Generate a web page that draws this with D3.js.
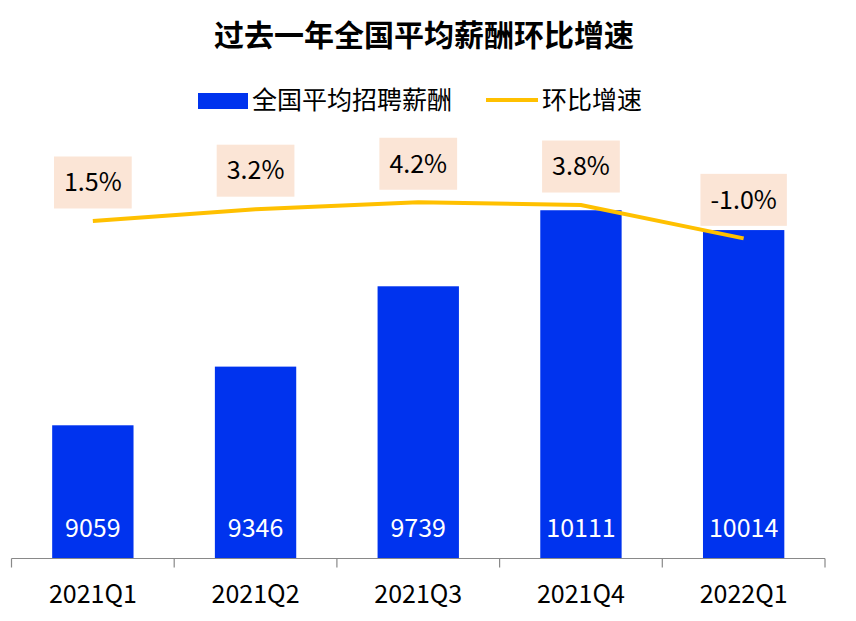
<!DOCTYPE html>
<html>
<head>
<meta charset="UTF-8">
<title>过去一年全国平均薪酬环比增速</title>
<script src="https://d3js.org/d3.v7.min.js"></script>
<style>
  body { margin: 0; background: #fff; }
  svg { display: block; font-family: "Noto Sans CJK SC", "Noto Sans", sans-serif; }
</style>
</head>
<body>
<svg width="856" height="621"></svg>
<script>
// 数据
const quarters = ["2021Q1", "2021Q2", "2021Q3", "2021Q4", "2022Q1"];
const salary = [9059, 9346, 9739, 10111, 10014];
const growth = [1.5, 3.2, 4.2, 3.8, -1.0];
const growthLabels = ["1.5%", "3.2%", "4.2%", "3.8%", "-1.0%"];

const svg = d3.select("svg");
const plotLeft = 11.5, plotRight = 825, plotBottom = 558.5;

const x = d3.scaleBand().domain(quarters).range([plotLeft, plotRight])
    .paddingInner(0.5).paddingOuter(0.25);
const y = d3.scaleLinear().domain([8400, 10800]).range([560, 69.4]);
const y2 = d3.scaleLinear().domain([-40, 20]).range([509, 92.6]);

// 标题
svg.append("text")
    .attr("x", 424).attr("y", 46)
    .attr("text-anchor", "middle")
    .attr("font-size", 30).attr("font-weight", "bold")
    .text("过去一年全国平均薪酬环比增速");

// 图例
const lg = svg.append("g");
lg.append("rect").attr("x", 198).attr("y", 93).attr("width", 50).attr("height", 16).attr("fill", "#0033EE");
lg.append("text").attr("x", 252).attr("y", 109).attr("font-size", 25).text("全国平均招聘薪酬");
lg.append("line").attr("x1", 486).attr("x2", 538).attr("y1", 100).attr("y2", 100)
    .attr("stroke", "#FFC000").attr("stroke-width", 4);
lg.append("text").attr("x", 542).attr("y", 109).attr("font-size", 25).text("环比增速");

// 柱子
svg.append("g").selectAll("rect")
    .data(quarters)
    .join("rect")
    .attr("x", d => x(d))
    .attr("width", x.bandwidth())
    .attr("y", (d, i) => y(salary[i]))
    .attr("height", (d, i) => plotBottom - y(salary[i]))
    .attr("fill", "#0033EE");

svg.append("g").selectAll("text")
    .data(quarters)
    .join("text")
    .attr("x", d => x(d) + x.bandwidth() / 2)
    .attr("y", 537)
    .attr("text-anchor", "middle")
    .attr("font-size", 25)
    .attr("fill", "#fff")
    .text((d, i) => salary[i]);

// X轴
const axis = svg.append("g");
axis.append("line").attr("x1", plotLeft).attr("x2", plotRight).attr("y1", plotBottom).attr("y2", plotBottom)
    .attr("stroke", "#898989").attr("stroke-width", 1.2);
const bounds = quarters.map(d => x(d) - x.step() * 0.25).concat([plotRight]);
axis.selectAll(".tick")
    .data(bounds)
    .join("line")
    .attr("x1", d => d).attr("x2", d => d)
    .attr("y1", plotBottom).attr("y2", plotBottom + 9)
    .attr("stroke", "#898989").attr("stroke-width", 1.2);
axis.selectAll("text")
    .data(quarters)
    .join("text")
    .attr("x", d => x(d) + x.bandwidth() / 2)
    .attr("y", 603)
    .attr("text-anchor", "middle")
    .attr("font-size", 25)
    .text(d => d);

// 折线
const line = d3.line()
    .x((d, i) => x(quarters[i]) + x.bandwidth() / 2)
    .y(d => y2(d));
svg.append("path")
    .datum(growth)
    .attr("d", line)
    .attr("fill", "none")
    .attr("stroke", "#FFC000")
    .attr("stroke-width", 4);

// 增速标签
const lab = svg.append("g").selectAll("g")
    .data(growth)
    .join("g")
    .attr("transform", (d, i) => `translate(${x(quarters[i]) + x.bandwidth() / 2},${y2(d) - 38.5})`);
lab.append("rect").attr("fill", "#FBE5D6");
lab.append("text")
    .attr("text-anchor", "middle")
    .attr("dy", "0.35em")
    .attr("font-size", 25)
    .text((d, i) => growthLabels[i])
    .each(function() {
        const w = this.getBBox().width;
        d3.select(this.previousSibling)
            .attr("x", -w / 2 - 10).attr("width", w + 20)
            .attr("y", -26).attr("height", 52);
    });
</script>
</body>
</html>
